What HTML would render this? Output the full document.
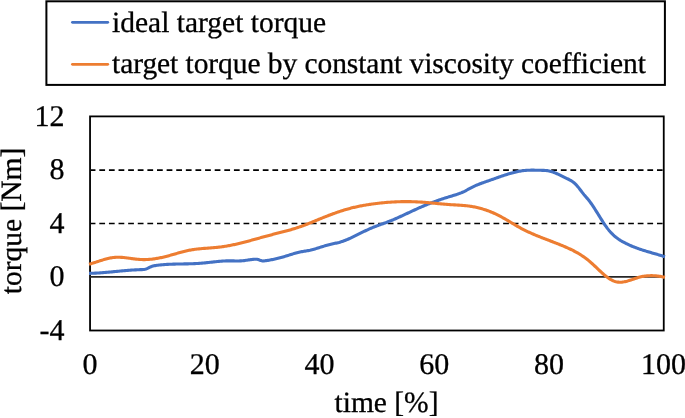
<!DOCTYPE html>
<html><head><meta charset="utf-8"><style>html,body{margin:0;padding:0;background:#fff;width:685px;height:418px;overflow:hidden}svg{display:block;will-change:transform}</style></head>
<body><svg width="685" height="418" viewBox="0 0 685 418">
<rect x="0" y="0" width="685" height="418" fill="#fff"/>
<rect x="46.4" y="1.3" width="618.5" height="83.6" fill="none" stroke="#000" stroke-width="2"/>
<line x1="72.4" y1="22.3" x2="107.8" y2="22.3" stroke="#4472C4" stroke-width="2.7" stroke-linecap="round"/>
<line x1="72.4" y1="64.3" x2="107.8" y2="64.3" stroke="#ED7D31" stroke-width="2.7" stroke-linecap="round"/>
<g text-rendering="geometricPrecision" font-family="Liberation Serif" font-size="29.5" fill="#000" stroke="#000" stroke-width="0.3">
<text x="112" y="32">ideal target torque</text>
<text x="112" y="73" textLength="534" lengthAdjust="spacing">target torque by constant viscosity coefficient</text>
<g text-anchor="end" font-size="30">
<text x="64.5" y="126">12</text>
<text x="64.5" y="179.2">8</text>
<text x="64.5" y="232.5">4</text>
<text x="64.5" y="285.8">0</text>
<text x="64.5" y="339.8">-4</text>
</g>
<g text-anchor="middle" font-size="30">
<text x="90.0" y="374">0</text>
<text x="204.7" y="374">20</text>
<text x="319.4" y="374">40</text>
<text x="434.2" y="374">60</text>
<text x="548.9" y="374">80</text>
<text x="663.6" y="374">100</text>
</g>
<text x="386.5" y="412" text-anchor="middle">time [%]</text>
<text transform="translate(20.8,221) rotate(-90)" text-anchor="middle">torque [Nm]</text>
</g>
<rect x="90.05" y="116.4" width="573.7" height="214.1" fill="none" stroke="#000" stroke-width="1.8"/>
<line x1="91.0" y1="170.15" x2="662.6" y2="170.15" stroke="#000" stroke-width="1.6" stroke-dasharray="5.75 3.865" stroke-dashoffset="1.3"/>
<line x1="91.0" y1="223.55" x2="662.6" y2="223.55" stroke="#000" stroke-width="1.6" stroke-dasharray="5.75 3.865" stroke-dashoffset="1.3"/>
<line x1="90.0" y1="276.85" x2="663.6" y2="276.85" stroke="#262626" stroke-width="1.8"/>
<path d="M89.00,273.37 L90.00,273.35 L91.00,273.32 L92.00,273.29 L93.00,273.25 L94.00,273.21 L95.00,273.16 L96.00,273.11 L97.00,273.06 L98.00,273.00 L99.00,272.93 L100.00,272.86 L101.00,272.79 L102.00,272.72 L103.00,272.64 L104.00,272.56 L105.00,272.48 L106.00,272.39 L107.00,272.30 L108.00,272.21 L109.00,272.12 L110.00,272.03 L111.00,271.94 L112.00,271.84 L113.00,271.74 L114.00,271.65 L115.00,271.55 L116.00,271.45 L117.00,271.36 L118.00,271.26 L119.00,271.17 L120.00,271.07 L121.00,270.98 L122.00,270.88 L123.00,270.79 L124.00,270.70 L125.00,270.61 L126.00,270.53 L127.00,270.44 L128.00,270.36 L129.00,270.29 L130.00,270.21 L131.00,270.14 L132.00,270.07 L133.00,270.00 L134.00,269.94 L135.00,269.89 L136.00,269.83 L137.00,269.79 L138.00,269.74 L139.00,269.71 L140.00,269.67 L141.00,269.64 L142.00,269.60 L143.00,269.53 L144.00,269.42 L145.00,269.25 L146.00,269.00 L147.00,268.65 L148.00,268.20 L149.00,267.67 L150.00,267.15 L151.00,266.71 L152.00,266.35 L153.00,266.05 L154.00,265.81 L155.00,265.62 L156.00,265.46 L157.00,265.32 L158.00,265.20 L159.00,265.08 L160.00,264.97 L161.00,264.86 L162.00,264.77 L163.00,264.68 L164.00,264.60 L165.00,264.53 L166.00,264.46 L167.00,264.40 L168.00,264.35 L169.00,264.30 L170.00,264.25 L171.00,264.21 L172.00,264.18 L173.00,264.14 L174.00,264.11 L175.00,264.09 L176.00,264.06 L177.00,264.04 L178.00,264.02 L179.00,264.00 L180.00,263.99 L181.00,263.97 L182.00,263.95 L183.00,263.94 L184.00,263.92 L185.00,263.91 L186.00,263.89 L187.00,263.87 L188.00,263.85 L189.00,263.82 L190.00,263.80 L191.00,263.77 L192.00,263.74 L193.00,263.70 L194.00,263.66 L195.00,263.61 L196.00,263.57 L197.00,263.51 L198.00,263.45 L199.00,263.39 L200.00,263.31 L201.00,263.23 L202.00,263.15 L203.00,263.06 L204.00,262.96 L205.00,262.87 L206.00,262.76 L207.00,262.66 L208.00,262.55 L209.00,262.44 L210.00,262.33 L211.00,262.22 L212.00,262.11 L213.00,262.00 L214.00,261.89 L215.00,261.78 L216.00,261.68 L217.00,261.58 L218.00,261.48 L219.00,261.39 L220.00,261.30 L221.00,261.22 L222.00,261.14 L223.00,261.07 L224.00,261.01 L225.00,260.96 L226.00,260.91 L227.00,260.88 L228.00,260.85 L229.00,260.84 L230.00,260.84 L231.00,260.85 L232.00,260.86 L233.00,260.89 L234.00,260.91 L235.00,260.93 L236.00,260.95 L237.00,260.96 L238.00,260.97 L239.00,260.95 L240.00,260.92 L241.00,260.87 L242.00,260.80 L243.00,260.70 L244.00,260.59 L245.00,260.46 L246.00,260.33 L247.00,260.19 L248.00,260.04 L249.00,259.90 L250.00,259.76 L251.00,259.63 L252.00,259.50 L253.00,259.40 L254.00,259.31 L255.00,259.24 L256.00,259.20 L257.00,259.26 L258.00,259.47 L259.00,259.81 L260.00,260.22 L261.00,260.60 L262.00,260.87 L263.00,260.96 L264.00,260.92 L265.00,260.80 L266.00,260.66 L267.00,260.51 L268.00,260.35 L269.00,260.19 L270.00,260.01 L271.00,259.83 L272.00,259.63 L273.00,259.43 L274.00,259.22 L275.00,259.00 L276.00,258.77 L277.00,258.54 L278.00,258.29 L279.00,258.04 L280.00,257.78 L281.00,257.51 L282.00,257.24 L283.00,256.96 L284.00,256.66 L285.00,256.37 L286.00,256.06 L287.00,255.75 L288.00,255.44 L289.00,255.12 L290.00,254.81 L291.00,254.49 L292.00,254.18 L293.00,253.87 L294.00,253.58 L295.00,253.29 L296.00,253.01 L297.00,252.74 L298.00,252.48 L299.00,252.24 L300.00,252.02 L301.00,251.82 L302.00,251.63 L303.00,251.46 L304.00,251.29 L305.00,251.12 L306.00,250.96 L307.00,250.79 L308.00,250.61 L309.00,250.42 L310.00,250.22 L311.00,249.99 L312.00,249.75 L313.00,249.49 L314.00,249.22 L315.00,248.94 L316.00,248.64 L317.00,248.34 L318.00,248.03 L319.00,247.71 L320.00,247.39 L321.00,247.07 L322.00,246.75 L323.00,246.43 L324.00,246.12 L325.00,245.81 L326.00,245.51 L327.00,245.22 L328.00,244.94 L329.00,244.67 L330.00,244.42 L331.00,244.19 L332.00,243.96 L333.00,243.75 L334.00,243.54 L335.00,243.33 L336.00,243.12 L337.00,242.90 L338.00,242.67 L339.00,242.42 L340.00,242.14 L341.00,241.85 L342.00,241.53 L343.00,241.19 L344.00,240.83 L345.00,240.45 L346.00,240.05 L347.00,239.64 L348.00,239.21 L349.00,238.77 L350.00,238.31 L351.00,237.85 L352.00,237.38 L353.00,236.89 L354.00,236.41 L355.00,235.92 L356.00,235.42 L357.00,234.92 L358.00,234.42 L359.00,233.93 L360.00,233.43 L361.00,232.93 L362.00,232.44 L363.00,231.95 L364.00,231.46 L365.00,230.98 L366.00,230.50 L367.00,230.04 L368.00,229.58 L369.00,229.13 L370.00,228.69 L371.00,228.27 L372.00,227.85 L373.00,227.44 L374.00,227.05 L375.00,226.65 L376.00,226.27 L377.00,225.89 L378.00,225.52 L379.00,225.15 L380.00,224.78 L381.00,224.41 L382.00,224.05 L383.00,223.68 L384.00,223.32 L385.00,222.95 L386.00,222.58 L387.00,222.20 L388.00,221.82 L389.00,221.43 L390.00,221.04 L391.00,220.64 L392.00,220.23 L393.00,219.81 L394.00,219.39 L395.00,218.96 L396.00,218.53 L397.00,218.09 L398.00,217.64 L399.00,217.19 L400.00,216.74 L401.00,216.28 L402.00,215.82 L403.00,215.36 L404.00,214.90 L405.00,214.43 L406.00,213.96 L407.00,213.49 L408.00,213.02 L409.00,212.55 L410.00,212.08 L411.00,211.62 L412.00,211.15 L413.00,210.68 L414.00,210.22 L415.00,209.76 L416.00,209.30 L417.00,208.85 L418.00,208.40 L419.00,207.95 L420.00,207.51 L421.00,207.08 L422.00,206.64 L423.00,206.22 L424.00,205.80 L425.00,205.38 L426.00,204.97 L427.00,204.57 L428.00,204.17 L429.00,203.77 L430.00,203.38 L431.00,202.99 L432.00,202.61 L433.00,202.23 L434.00,201.86 L435.00,201.49 L436.00,201.13 L437.00,200.77 L438.00,200.42 L439.00,200.07 L440.00,199.72 L441.00,199.38 L442.00,199.05 L443.00,198.71 L444.00,198.38 L445.00,198.06 L446.00,197.74 L447.00,197.43 L448.00,197.11 L449.00,196.81 L450.00,196.50 L451.00,196.20 L452.00,195.90 L453.00,195.60 L454.00,195.30 L455.00,194.99 L456.00,194.68 L457.00,194.35 L458.00,194.01 L459.00,193.65 L460.00,193.28 L461.00,192.89 L462.00,192.47 L463.00,192.03 L464.00,191.56 L465.00,191.06 L466.00,190.53 L467.00,189.99 L468.00,189.43 L469.00,188.87 L470.00,188.32 L471.00,187.79 L472.00,187.28 L473.00,186.79 L474.00,186.32 L475.00,185.87 L476.00,185.43 L477.00,185.01 L478.00,184.60 L479.00,184.20 L480.00,183.81 L481.00,183.44 L482.00,183.07 L483.00,182.70 L484.00,182.35 L485.00,182.00 L486.00,181.65 L487.00,181.30 L488.00,180.96 L489.00,180.61 L490.00,180.26 L491.00,179.91 L492.00,179.56 L493.00,179.21 L494.00,178.85 L495.00,178.50 L496.00,178.14 L497.00,177.79 L498.00,177.43 L499.00,177.08 L500.00,176.73 L501.00,176.38 L502.00,176.04 L503.00,175.70 L504.00,175.37 L505.00,175.04 L506.00,174.72 L507.00,174.40 L508.00,174.09 L509.00,173.79 L510.00,173.49 L511.00,173.21 L512.00,172.93 L513.00,172.67 L514.00,172.41 L515.00,172.17 L516.00,171.93 L517.00,171.71 L518.00,171.51 L519.00,171.31 L520.00,171.13 L521.00,170.97 L522.00,170.81 L523.00,170.68 L524.00,170.56 L525.00,170.46 L526.00,170.38 L527.00,170.31 L528.00,170.25 L529.00,170.21 L530.00,170.19 L531.00,170.17 L532.00,170.16 L533.00,170.16 L534.00,170.17 L535.00,170.18 L536.00,170.20 L537.00,170.22 L538.00,170.24 L539.00,170.26 L540.00,170.29 L541.00,170.30 L542.00,170.33 L543.00,170.36 L544.00,170.40 L545.00,170.46 L546.00,170.54 L547.00,170.64 L548.00,170.78 L549.00,170.96 L550.00,171.17 L551.00,171.43 L552.00,171.73 L553.00,172.07 L554.00,172.45 L555.00,172.85 L556.00,173.28 L557.00,173.73 L558.00,174.20 L559.00,174.68 L560.00,175.17 L561.00,175.67 L562.00,176.16 L563.00,176.66 L564.00,177.15 L565.00,177.62 L566.00,178.09 L567.00,178.55 L568.00,179.02 L569.00,179.51 L570.00,180.04 L571.00,180.61 L572.00,181.24 L573.00,181.95 L574.00,182.73 L575.00,183.61 L576.00,184.60 L577.00,185.70 L578.00,186.90 L579.00,188.16 L580.00,189.47 L581.00,190.80 L582.00,192.12 L583.00,193.41 L584.00,194.65 L585.00,195.83 L586.00,196.98 L587.00,198.13 L588.00,199.32 L589.00,200.56 L590.00,201.88 L591.00,203.26 L592.00,204.69 L593.00,206.17 L594.00,207.69 L595.00,209.24 L596.00,210.82 L597.00,212.42 L598.00,214.03 L599.00,215.64 L600.00,217.26 L601.00,218.86 L602.00,220.44 L603.00,222.00 L604.00,223.53 L605.00,225.02 L606.00,226.45 L607.00,227.84 L608.00,229.15 L609.00,230.40 L610.00,231.58 L611.00,232.69 L612.00,233.73 L613.00,234.71 L614.00,235.64 L615.00,236.51 L616.00,237.32 L617.00,238.09 L618.00,238.82 L619.00,239.51 L620.00,240.16 L621.00,240.78 L622.00,241.36 L623.00,241.93 L624.00,242.46 L625.00,242.98 L626.00,243.49 L627.00,243.97 L628.00,244.45 L629.00,244.91 L630.00,245.35 L631.00,245.79 L632.00,246.21 L633.00,246.62 L634.00,247.02 L635.00,247.40 L636.00,247.78 L637.00,248.15 L638.00,248.51 L639.00,248.86 L640.00,249.20 L641.00,249.53 L642.00,249.86 L643.00,250.18 L644.00,250.50 L645.00,250.81 L646.00,251.12 L647.00,251.42 L648.00,251.72 L649.00,252.01 L650.00,252.31 L651.00,252.60 L652.00,252.89 L653.00,253.18 L654.00,253.47 L655.00,253.76 L656.00,254.05 L657.00,254.34 L658.00,254.63 L659.00,254.93 L660.00,255.23 L661.00,255.53 L662.00,255.84 L663.00,256.15 L664.00,256.47 L665.00,256.79" fill="none" stroke="#4472C4" stroke-width="3.1" stroke-linejoin="round"/>
<path d="M89.00,264.26 L90.00,263.98 L91.00,263.69 L92.00,263.38 L93.00,263.07 L94.00,262.75 L95.00,262.43 L96.00,262.10 L97.00,261.78 L98.00,261.45 L99.00,261.12 L100.00,260.80 L101.00,260.48 L102.00,260.17 L103.00,259.86 L104.00,259.57 L105.00,259.28 L106.00,259.01 L107.00,258.75 L108.00,258.51 L109.00,258.28 L110.00,258.07 L111.00,257.88 L112.00,257.72 L113.00,257.57 L114.00,257.46 L115.00,257.36 L116.00,257.30 L117.00,257.26 L118.00,257.25 L119.00,257.26 L120.00,257.29 L121.00,257.33 L122.00,257.40 L123.00,257.48 L124.00,257.57 L125.00,257.68 L126.00,257.80 L127.00,257.92 L128.00,258.05 L129.00,258.19 L130.00,258.33 L131.00,258.47 L132.00,258.61 L133.00,258.74 L134.00,258.88 L135.00,259.00 L136.00,259.12 L137.00,259.23 L138.00,259.33 L139.00,259.41 L140.00,259.48 L141.00,259.54 L142.00,259.57 L143.00,259.59 L144.00,259.60 L145.00,259.59 L146.00,259.56 L147.00,259.52 L148.00,259.47 L149.00,259.40 L150.00,259.32 L151.00,259.22 L152.00,259.12 L153.00,258.99 L154.00,258.86 L155.00,258.72 L156.00,258.56 L157.00,258.39 L158.00,258.22 L159.00,258.03 L160.00,257.83 L161.00,257.62 L162.00,257.40 L163.00,257.17 L164.00,256.94 L165.00,256.69 L166.00,256.44 L167.00,256.18 L168.00,255.92 L169.00,255.65 L170.00,255.37 L171.00,255.09 L172.00,254.81 L173.00,254.52 L174.00,254.23 L175.00,253.95 L176.00,253.66 L177.00,253.37 L178.00,253.09 L179.00,252.81 L180.00,252.53 L181.00,252.26 L182.00,251.99 L183.00,251.73 L184.00,251.47 L185.00,251.23 L186.00,250.99 L187.00,250.76 L188.00,250.54 L189.00,250.33 L190.00,250.14 L191.00,249.95 L192.00,249.78 L193.00,249.62 L194.00,249.47 L195.00,249.33 L196.00,249.20 L197.00,249.08 L198.00,248.97 L199.00,248.86 L200.00,248.76 L201.00,248.67 L202.00,248.58 L203.00,248.50 L204.00,248.42 L205.00,248.34 L206.00,248.26 L207.00,248.19 L208.00,248.11 L209.00,248.04 L210.00,247.97 L211.00,247.89 L212.00,247.82 L213.00,247.74 L214.00,247.65 L215.00,247.57 L216.00,247.47 L217.00,247.38 L218.00,247.27 L219.00,247.16 L220.00,247.04 L221.00,246.92 L222.00,246.78 L223.00,246.64 L224.00,246.49 L225.00,246.34 L226.00,246.17 L227.00,246.00 L228.00,245.82 L229.00,245.64 L230.00,245.45 L231.00,245.25 L232.00,245.05 L233.00,244.84 L234.00,244.63 L235.00,244.41 L236.00,244.19 L237.00,243.96 L238.00,243.72 L239.00,243.49 L240.00,243.24 L241.00,243.00 L242.00,242.75 L243.00,242.50 L244.00,242.24 L245.00,241.98 L246.00,241.72 L247.00,241.45 L248.00,241.19 L249.00,240.92 L250.00,240.65 L251.00,240.37 L252.00,240.10 L253.00,239.83 L254.00,239.55 L255.00,239.27 L256.00,238.99 L257.00,238.71 L258.00,238.43 L259.00,238.16 L260.00,237.88 L261.00,237.60 L262.00,237.32 L263.00,237.04 L264.00,236.77 L265.00,236.49 L266.00,236.22 L267.00,235.95 L268.00,235.68 L269.00,235.41 L270.00,235.15 L271.00,234.89 L272.00,234.63 L273.00,234.37 L274.00,234.11 L275.00,233.86 L276.00,233.60 L277.00,233.35 L278.00,233.10 L279.00,232.84 L280.00,232.59 L281.00,232.33 L282.00,232.07 L283.00,231.82 L284.00,231.55 L285.00,231.29 L286.00,231.03 L287.00,230.76 L288.00,230.48 L289.00,230.21 L290.00,229.92 L291.00,229.64 L292.00,229.35 L293.00,229.05 L294.00,228.75 L295.00,228.44 L296.00,228.13 L297.00,227.81 L298.00,227.48 L299.00,227.14 L300.00,226.80 L301.00,226.45 L302.00,226.09 L303.00,225.72 L304.00,225.35 L305.00,224.97 L306.00,224.59 L307.00,224.20 L308.00,223.80 L309.00,223.40 L310.00,223.00 L311.00,222.59 L312.00,222.19 L313.00,221.78 L314.00,221.36 L315.00,220.95 L316.00,220.54 L317.00,220.13 L318.00,219.71 L319.00,219.30 L320.00,218.89 L321.00,218.48 L322.00,218.08 L323.00,217.68 L324.00,217.27 L325.00,216.88 L326.00,216.48 L327.00,216.09 L328.00,215.70 L329.00,215.32 L330.00,214.94 L331.00,214.56 L332.00,214.19 L333.00,213.82 L334.00,213.45 L335.00,213.09 L336.00,212.74 L337.00,212.39 L338.00,212.04 L339.00,211.70 L340.00,211.37 L341.00,211.04 L342.00,210.72 L343.00,210.41 L344.00,210.10 L345.00,209.79 L346.00,209.50 L347.00,209.21 L348.00,208.92 L349.00,208.65 L350.00,208.38 L351.00,208.12 L352.00,207.87 L353.00,207.62 L354.00,207.38 L355.00,207.15 L356.00,206.93 L357.00,206.71 L358.00,206.49 L359.00,206.29 L360.00,206.09 L361.00,205.89 L362.00,205.70 L363.00,205.52 L364.00,205.34 L365.00,205.17 L366.00,205.00 L367.00,204.83 L368.00,204.68 L369.00,204.52 L370.00,204.37 L371.00,204.22 L372.00,204.08 L373.00,203.94 L374.00,203.80 L375.00,203.67 L376.00,203.54 L377.00,203.42 L378.00,203.30 L379.00,203.18 L380.00,203.07 L381.00,202.96 L382.00,202.86 L383.00,202.76 L384.00,202.67 L385.00,202.57 L386.00,202.49 L387.00,202.40 L388.00,202.32 L389.00,202.25 L390.00,202.18 L391.00,202.11 L392.00,202.05 L393.00,201.99 L394.00,201.94 L395.00,201.89 L396.00,201.84 L397.00,201.80 L398.00,201.76 L399.00,201.73 L400.00,201.70 L401.00,201.67 L402.00,201.65 L403.00,201.64 L404.00,201.63 L405.00,201.62 L406.00,201.62 L407.00,201.62 L408.00,201.62 L409.00,201.63 L410.00,201.65 L411.00,201.67 L412.00,201.69 L413.00,201.72 L414.00,201.75 L415.00,201.79 L416.00,201.83 L417.00,201.87 L418.00,201.93 L419.00,201.98 L420.00,202.04 L421.00,202.10 L422.00,202.17 L423.00,202.24 L424.00,202.32 L425.00,202.40 L426.00,202.48 L427.00,202.56 L428.00,202.65 L429.00,202.74 L430.00,202.83 L431.00,202.93 L432.00,203.02 L433.00,203.12 L434.00,203.21 L435.00,203.31 L436.00,203.41 L437.00,203.50 L438.00,203.60 L439.00,203.70 L440.00,203.79 L441.00,203.88 L442.00,203.98 L443.00,204.07 L444.00,204.15 L445.00,204.24 L446.00,204.32 L447.00,204.40 L448.00,204.48 L449.00,204.55 L450.00,204.62 L451.00,204.69 L452.00,204.75 L453.00,204.81 L454.00,204.87 L455.00,204.92 L456.00,204.98 L457.00,205.04 L458.00,205.10 L459.00,205.16 L460.00,205.22 L461.00,205.29 L462.00,205.36 L463.00,205.44 L464.00,205.52 L465.00,205.61 L466.00,205.71 L467.00,205.82 L468.00,205.94 L469.00,206.07 L470.00,206.21 L471.00,206.36 L472.00,206.52 L473.00,206.70 L474.00,206.88 L475.00,207.08 L476.00,207.29 L477.00,207.52 L478.00,207.75 L479.00,208.00 L480.00,208.26 L481.00,208.53 L482.00,208.82 L483.00,209.12 L484.00,209.43 L485.00,209.75 L486.00,210.09 L487.00,210.44 L488.00,210.80 L489.00,211.17 L490.00,211.56 L491.00,211.96 L492.00,212.38 L493.00,212.80 L494.00,213.24 L495.00,213.70 L496.00,214.16 L497.00,214.64 L498.00,215.13 L499.00,215.64 L500.00,216.16 L501.00,216.69 L502.00,217.24 L503.00,217.80 L504.00,218.36 L505.00,218.94 L506.00,219.52 L507.00,220.11 L508.00,220.70 L509.00,221.30 L510.00,221.89 L511.00,222.49 L512.00,223.09 L513.00,223.69 L514.00,224.29 L515.00,224.88 L516.00,225.46 L517.00,226.04 L518.00,226.62 L519.00,227.18 L520.00,227.73 L521.00,228.27 L522.00,228.81 L523.00,229.33 L524.00,229.84 L525.00,230.34 L526.00,230.83 L527.00,231.31 L528.00,231.78 L529.00,232.25 L530.00,232.71 L531.00,233.16 L532.00,233.60 L533.00,234.03 L534.00,234.46 L535.00,234.89 L536.00,235.31 L537.00,235.72 L538.00,236.13 L539.00,236.53 L540.00,236.93 L541.00,237.33 L542.00,237.72 L543.00,238.11 L544.00,238.50 L545.00,238.88 L546.00,239.27 L547.00,239.65 L548.00,240.03 L549.00,240.41 L550.00,240.80 L551.00,241.18 L552.00,241.56 L553.00,241.94 L554.00,242.33 L555.00,242.72 L556.00,243.10 L557.00,243.50 L558.00,243.89 L559.00,244.29 L560.00,244.69 L561.00,245.10 L562.00,245.51 L563.00,245.92 L564.00,246.35 L565.00,246.77 L566.00,247.21 L567.00,247.65 L568.00,248.09 L569.00,248.55 L570.00,249.02 L571.00,249.49 L572.00,249.98 L573.00,250.48 L574.00,251.00 L575.00,251.53 L576.00,252.07 L577.00,252.63 L578.00,253.20 L579.00,253.79 L580.00,254.40 L581.00,255.03 L582.00,255.68 L583.00,256.35 L584.00,257.05 L585.00,257.76 L586.00,258.50 L587.00,259.26 L588.00,260.05 L589.00,260.87 L590.00,261.71 L591.00,262.58 L592.00,263.47 L593.00,264.38 L594.00,265.31 L595.00,266.25 L596.00,267.20 L597.00,268.16 L598.00,269.11 L599.00,270.06 L600.00,271.00 L601.00,271.93 L602.00,272.84 L603.00,273.74 L604.00,274.61 L605.00,275.45 L606.00,276.26 L607.00,277.03 L608.00,277.77 L609.00,278.46 L610.00,279.10 L611.00,279.69 L612.00,280.23 L613.00,280.71 L614.00,281.12 L615.00,281.46 L616.00,281.74 L617.00,281.95 L618.00,282.09 L619.00,282.17 L620.00,282.20 L621.00,282.18 L622.00,282.11 L623.00,281.99 L624.00,281.83 L625.00,281.64 L626.00,281.41 L627.00,281.16 L628.00,280.88 L629.00,280.58 L630.00,280.27 L631.00,279.94 L632.00,279.60 L633.00,279.25 L634.00,278.91 L635.00,278.57 L636.00,278.23 L637.00,277.91 L638.00,277.60 L639.00,277.31 L640.00,277.04 L641.00,276.79 L642.00,276.57 L643.00,276.38 L644.00,276.21 L645.00,276.06 L646.00,275.94 L647.00,275.84 L648.00,275.77 L649.00,275.71 L650.00,275.68 L651.00,275.66 L652.00,275.67 L653.00,275.70 L654.00,275.74 L655.00,275.81 L656.00,275.89 L657.00,275.99 L658.00,276.11 L659.00,276.24 L660.00,276.39 L661.00,276.55 L662.00,276.73 L663.00,276.93 L664.00,277.13 L665.00,277.35" fill="none" stroke="#ED7D31" stroke-width="3.1" stroke-linejoin="round"/>
</svg></body></html>
